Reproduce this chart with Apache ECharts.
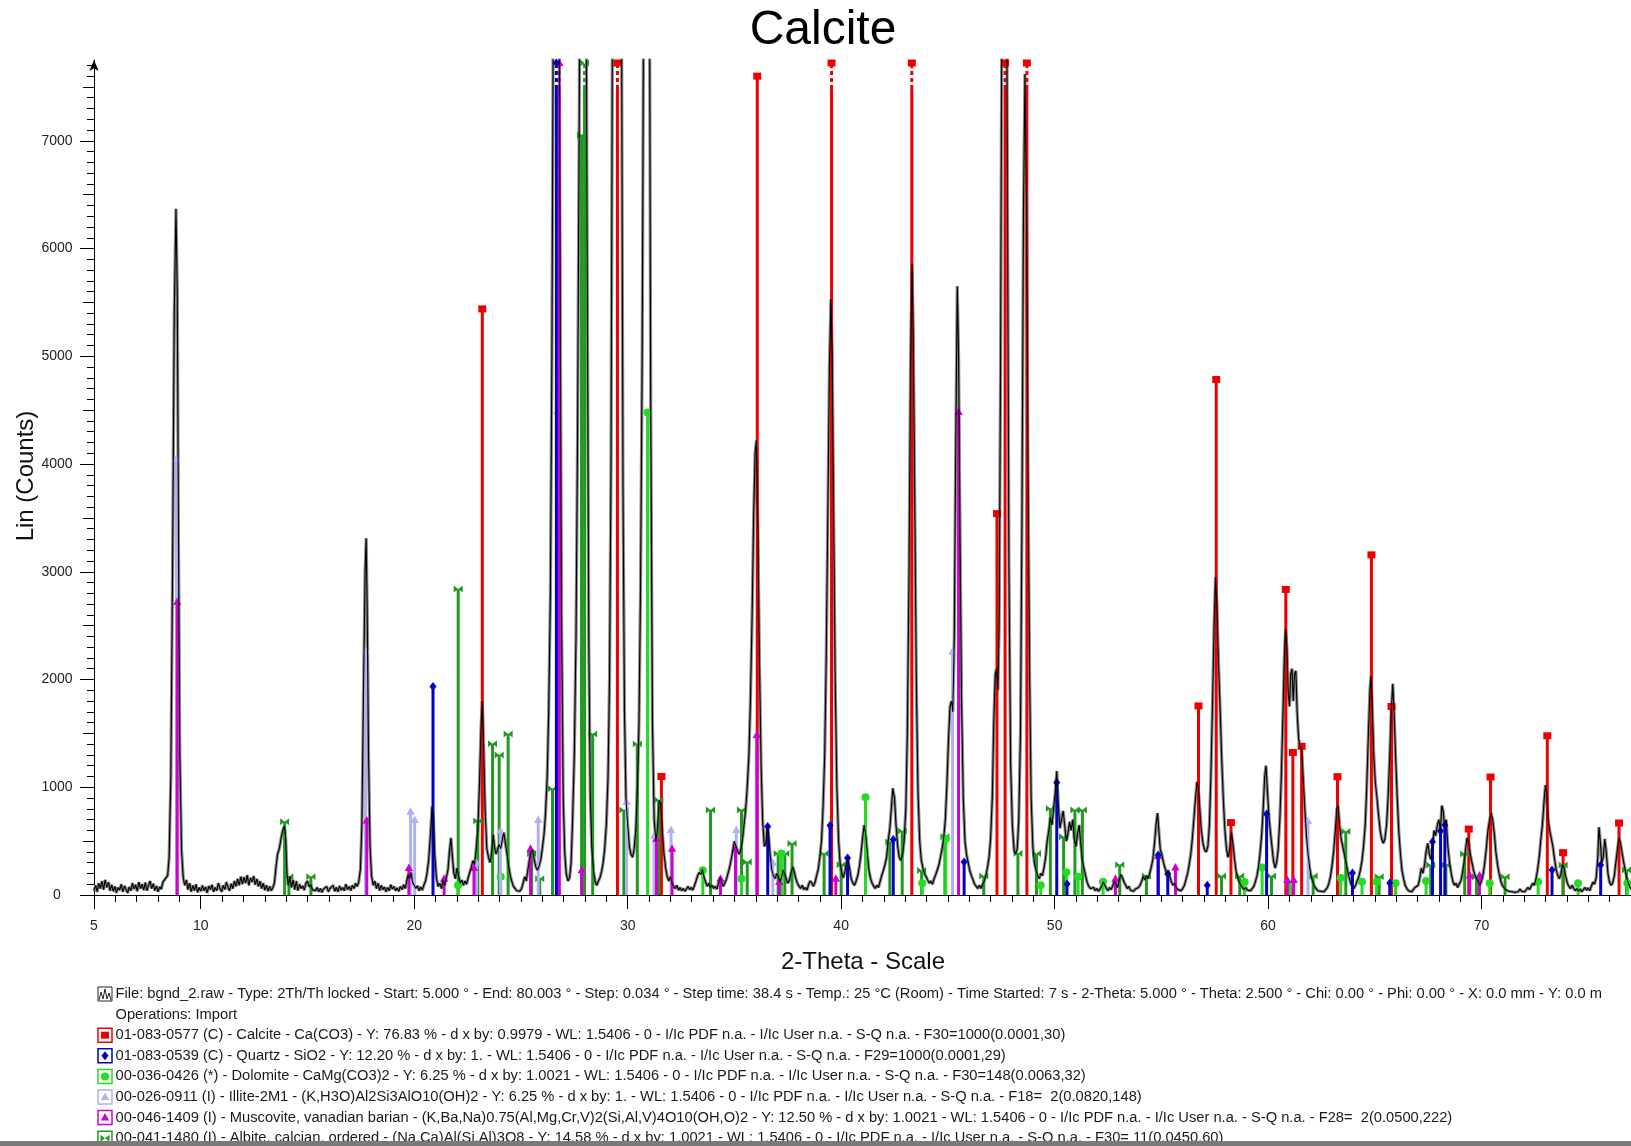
<!DOCTYPE html>
<html>
<head>
<meta charset="utf-8">
<script src="https://cdn.jsdelivr.net/npm/echarts@6/dist/echarts.min.js"></script>
<style>
  html, body { margin: 0; padding: 0; background: #fff; }
  #chart { width: 1631px; height: 1146px; }
</style>
</head>
<body>
<div id="chart"></div>
<script>
// ---- Measured diffraction pattern: [2-theta (deg), counts] ----
const pattern = [
[5.00,40],[5.08,90],[5.15,30],[5.22,110],[5.30,60],[5.37,130],[5.45,50],[5.52,140],[5.60,70],[5.68,120],[5.75,40],[5.83,95],[5.90,35],[5.98,80],[6.05,20],[6.13,70],[6.20,45],[6.28,100],[6.35,30],[6.43,85],[6.50,50],[6.58,20],[6.65,75],[6.73,40],[6.80,110],[6.88,55],[6.95,95],[7.03,35],[7.10,120],[7.18,60],[7.25,100],[7.33,45],[7.40,115],[7.48,40],[7.55,90],[7.63,130],[7.70,60],[7.78,105],[7.85,40],[7.93,85],[8.00,30],[8.08,75],[8.15,55],[8.23,120],[8.30,140],[8.38,130],[8.45,180],[8.52,350],[8.60,1100],[8.68,3000],[8.76,5400],[8.84,6370],[8.90,5600],[8.96,3200],[9.02,1300],[9.10,420],[9.18,160],[9.25,90],[9.33,140],[9.40,50],[9.48,110],[9.55,30],[9.63,90],[9.70,40],[9.78,100],[9.85,25],[9.93,70],
[10.00,35],[10.08,90],[10.15,40],[10.23,75],[10.30,20],[10.38,85],[10.45,50],[10.53,95],[10.60,30],[10.68,70],[10.75,40],[10.83,110],[10.90,60],[10.98,30],[11.05,90],[11.13,50],[11.20,120],[11.28,70],[11.35,40],[11.43,105],[11.50,60],[11.58,130],[11.65,80],[11.73,150],[11.80,90],[11.88,170],[11.95,100],[12.03,165],[12.10,110],[12.18,185],[12.25,90],[12.33,160],[12.40,120],[12.48,175],[12.55,95],[12.63,150],[12.70,80],[12.78,130],[12.85,60],[12.93,110],[13.00,45],[13.08,90],[13.15,35],[13.23,80],[13.30,40],[13.38,70],[13.45,110],[13.52,250],[13.60,380],[13.68,430],[13.76,520],[13.84,600],[13.92,640],[13.98,520],[14.04,200],[14.10,90],[14.18,170],[14.25,70],[14.33,140],[14.40,50],[14.48,130],[14.55,40],[14.63,100],[14.70,60],[14.78,85],[14.85,45],[14.93,110],[15.00,130],[15.08,75],[15.15,95],[15.23,50],[15.30,65],[15.38,40],[15.45,70],[15.53,30],[15.60,60],[15.68,25],[15.75,55],[15.83,40],[15.90,80],[15.98,30],
[16.05,60],[16.13,45],[16.20,90],[16.28,35],[16.35,70],[16.43,30],[16.50,85],[16.58,45],[16.65,70],[16.73,40],[16.80,100],[16.88,50],[16.95,80],[17.03,40],[17.10,90],[17.18,60],[17.25,110],[17.33,80],[17.40,120],[17.48,240],[17.55,650],[17.62,1800],[17.70,3000],[17.75,3310],[17.80,2600],[17.86,1300],[17.93,450],[18.00,180],[18.08,90],[18.15,130],[18.23,60],[18.30,110],[18.38,40],[18.45,90],[18.53,50],[18.60,75],[18.68,30],[18.75,70],[18.83,40],[18.90,95],[18.98,55],[19.05,80],[19.13,40],[19.20,65],[19.28,35],[19.35,80],[19.43,50],[19.50,95],[19.58,60],[19.65,130],[19.72,190],[19.78,150],[19.85,210],[19.92,120],[20.00,90],[20.08,60],[20.15,85],[20.23,40],[20.30,75],[20.38,45],[20.45,90],[20.53,130],[20.60,200],[20.68,330],[20.76,560],[20.84,820],[20.90,700],[20.96,380],
[21.04,160],[21.12,80],[21.20,110],[21.28,60],[21.35,140],[21.43,90],[21.50,160],[21.58,230],[21.65,400],[21.72,530],[21.78,380],[21.85,210],[21.93,150],[22.00,250],[22.08,180],[22.15,110],[22.23,140],[22.30,90],[22.38,130],[22.45,100],[22.53,160],[22.60,210],[22.68,260],[22.75,320],[22.83,280],[22.90,420],[22.98,600],[23.06,1050],[23.13,1550],[23.19,1800],[23.25,1400],[23.32,800],[23.40,430],[23.48,350],[23.55,300],[23.62,380],[23.70,560],[23.76,450],[23.83,380],[23.90,420],[23.98,470],[24.05,430],[24.13,520],[24.20,580],[24.28,470],[24.35,380],[24.43,260],[24.50,180],[24.58,120],[24.65,80],[24.73,60],[24.80,40],[24.88,55],[24.95,35],
[25.03,60],[25.10,110],[25.18,170],[25.25,130],[25.33,240],[25.40,330],[25.48,400],[25.55,420],[25.62,330],[25.70,260],[25.78,230],[25.85,270],[25.93,330],[26.00,430],[26.08,560],[26.15,750],[26.23,1100],[26.30,1700],[26.38,2800],[26.45,5000],[26.52,8500],[26.60,12000],[26.68,13500],[26.75,11000],[26.82,6500],[26.90,2600],[26.98,900],[27.05,400],[27.12,200],[27.20,130],[27.28,160],[27.35,300],[27.42,700],[27.50,1300],[27.58,2400],[27.65,4200],[27.72,6800],[27.80,10000],[27.88,12500],[27.95,13000],[28.02,10500],[28.10,6000],[28.18,2300],[28.25,900],[28.32,450],[28.40,220],[28.48,120],[28.55,90],[28.63,130],[28.70,160],[28.78,220],[28.85,300],[28.92,420],
[29.00,650],[29.08,1100],[29.15,2000],[29.22,4000],[29.30,9000],[29.38,20000],[29.46,40000],[29.54,42000],[29.62,22000],[29.70,9000],[29.78,3800],[29.85,1700],[29.92,900],[30.00,650],[30.08,450],[30.15,380],[30.23,350],[30.30,420],[30.38,600],[30.45,950],[30.53,1600],[30.60,2800],[30.68,5000],[30.76,9000],[30.84,13000],[30.92,14500],[31.00,10000],[31.08,4500],[31.16,1600],[31.24,700],[31.32,500],[31.40,620],[31.48,880],[31.55,850],[31.62,600],[31.70,380],[31.78,250],[31.85,170],[31.93,130],[32.00,170],[32.08,110],[32.15,80],[32.23,60],[32.30,90],[32.38,45],[32.45,70],[32.53,40],[32.60,60],[32.68,35],[32.75,55],[32.83,80],[32.90,50],[32.98,70],
[33.05,45],[33.13,90],[33.20,130],[33.28,180],[33.35,210],[33.43,190],[33.50,240],[33.58,160],[33.65,120],[33.73,80],[33.80,110],[33.88,70],[33.95,90],[34.03,60],[34.10,80],[34.18,55],[34.25,110],[34.33,160],[34.40,120],[34.48,80],[34.55,110],[34.63,150],[34.70,200],[34.78,260],[34.85,330],[34.93,420],[35.00,500],[35.08,450],[35.15,400],[35.23,380],[35.30,420],[35.38,520],[35.45,650],[35.53,800],[35.60,1000],[35.68,1300],[35.75,1800],[35.83,2600],[35.90,3500],[35.97,4100],[36.03,4220],[36.10,3400],[36.17,2200],[36.25,1200],[36.32,700],[36.40,450],[36.47,480],[36.54,620],[36.60,560],[36.67,380],[36.75,240],[36.82,180],[36.90,150],[36.98,200],
[37.05,170],[37.13,120],[37.20,160],[37.28,230],[37.35,200],[37.43,150],[37.50,110],[37.58,140],[37.65,200],[37.73,260],[37.80,220],[37.88,150],[37.95,110],[38.03,80],[38.10,60],[38.18,90],[38.25,50],[38.33,70],[38.40,45],[38.48,100],[38.55,130],[38.63,110],[38.70,80],[38.78,120],[38.85,180],[38.93,240],[39.00,350],[39.08,500],[39.15,800],[39.23,1300],[39.30,2200],[39.38,3600],[39.45,4900],[39.52,5530],[39.58,5000],[39.65,3500],[39.72,2000],[39.80,1000],[39.88,500],[39.95,300],
[40.03,200],[40.10,160],[40.18,220],[40.25,300],[40.32,330],[40.40,240],[40.47,150],[40.55,110],[40.63,90],[40.70,130],[40.78,180],[40.85,260],[40.93,380],[41.00,520],[41.08,650],[41.15,560],[41.23,380],[41.30,230],[41.38,150],[41.45,110],[41.53,80],[41.60,60],[41.68,90],[41.75,70],[41.83,130],[41.90,180],[41.98,230],[42.05,280],[42.13,350],[42.20,500],[42.28,620],[42.35,800],[42.42,990],[42.50,900],[42.57,650],[42.65,450],[42.72,350],[42.80,320],[42.88,380],[42.95,500],
[43.03,800],[43.10,1500],[43.18,3000],[43.25,4900],[43.32,5860],[43.38,5200],[43.45,3600],[43.52,2000],[43.60,950],[43.68,500],[43.75,330],[43.83,250],[43.90,200],[43.98,170],[44.05,140],[44.13,110],[44.20,130],[44.28,100],[44.35,150],[44.43,190],[44.50,230],[44.58,280],[44.65,350],[44.73,430],[44.80,520],[44.88,700],[44.95,1000],[45.03,1450],[45.10,1750],[45.17,1800],[45.23,1700],[45.30,2400],[45.37,4200],[45.44,5650],[45.50,5000],[45.57,3300],[45.64,1800],[45.72,900],[45.80,500],[45.87,380],[45.95,300],
[46.02,230],[46.10,180],[46.18,140],[46.25,100],[46.33,80],[46.40,60],[46.48,90],[46.55,60],[46.63,100],[46.70,130],[46.78,180],[46.85,250],[46.93,350],[47.00,520],[47.08,900],[47.15,1600],[47.22,2050],[47.28,2100],[47.34,1900],[47.40,2500],[47.47,5000],[47.54,9000],[47.62,13000],[47.70,12000],[47.78,7000],[47.86,3000],[47.94,1200],[48.02,650],[48.10,420],[48.17,380],[48.25,430],[48.32,700],[48.40,1500],[48.47,3500],[48.54,6300],[48.61,7620],[48.68,6500],[48.75,4000],[48.83,2000],[48.90,900],[48.98,450],
[49.05,300],[49.13,230],[49.20,180],[49.28,150],[49.35,200],[49.43,180],[49.50,250],[49.58,350],[49.65,500],[49.73,600],[49.80,720],[49.88,650],[49.95,800],[50.03,950],[50.10,1150],[50.17,850],[50.25,620],[50.32,700],[50.40,780],[50.47,650],[50.55,500],[50.62,560],[50.70,680],[50.77,600],[50.85,700],[50.92,520],[51.00,450],[51.07,560],[51.15,650],[51.22,480],[51.30,320],[51.37,250],[51.45,180],[51.52,120],[51.60,80],[51.68,60],[51.75,45],[51.83,70],[51.90,40],[51.98,60],
[52.05,35],[52.13,55],[52.20,80],[52.28,120],[52.35,90],[52.43,60],[52.50,40],[52.58,70],[52.65,50],[52.73,90],[52.80,130],[52.88,100],[52.95,70],[53.03,140],[53.10,190],[53.18,160],[53.25,120],[53.33,90],[53.40,60],[53.48,80],[53.55,45],[53.63,60],[53.70,35],[53.78,55],[53.85,40],[53.93,70],[54.00,90],[54.08,130],[54.15,170],[54.23,140],[54.30,180],[54.38,150],[54.45,200],[54.53,260],[54.60,330],[54.68,480],[54.75,650],[54.82,760],[54.88,600],[54.95,420],
[55.02,380],[55.10,300],[55.17,250],[55.25,200],[55.32,230],[55.40,170],[55.47,120],[55.55,90],[55.62,110],[55.70,70],[55.77,50],[55.85,65],[55.92,40],[56.00,60],[56.08,90],[56.15,140],[56.23,200],[56.30,280],[56.38,380],[56.45,520],[56.53,720],[56.60,900],[56.67,1050],[56.73,1000],[56.80,800],[56.87,600],[56.95,480],[57.02,420],[57.10,400],[57.18,450],[57.25,650],[57.32,1100],[57.40,1800],[57.47,2500],[57.54,2950],[57.60,2700],[57.67,2200],[57.74,1800],[57.82,1300],[57.90,900],[57.97,620],
[58.05,430],[58.12,350],[58.20,420],[58.28,580],[58.35,480],[58.43,330],[58.50,220],[58.58,160],[58.65,120],[58.73,90],[58.80,70],[58.88,50],[58.95,70],[59.03,45],[59.10,60],[59.18,40],[59.25,55],[59.33,80],[59.40,120],[59.48,180],[59.55,260],[59.62,380],[59.70,560],[59.77,800],[59.84,1100],[59.90,1200],[59.96,1000],
[60.03,750],[60.10,600],[60.18,450],[60.25,320],[60.33,250],[60.40,300],[60.47,420],[60.55,700],[60.62,1100],[60.70,1700],[60.76,2200],[60.82,2470],[60.88,2300],[60.94,1900],[61.00,1750],[61.06,2050],[61.12,2100],[61.18,1800],[61.24,2050],[61.30,2080],[61.36,1700],[61.43,1450],[61.50,1380],[61.57,1350],[61.64,1100],[61.72,800],[61.80,550],[61.87,380],[61.95,250],
[62.02,170],[62.10,120],[62.17,80],[62.25,60],[62.32,40],[62.40,55],[62.47,35],[62.55,50],[62.62,30],[62.70,45],[62.78,70],[62.85,110],[62.93,180],[63.00,280],[63.08,420],[63.15,600],[63.22,800],[63.28,830],[63.35,650],[63.42,520],[63.50,450],[63.57,380],[63.65,300],[63.72,230],[63.80,160],[63.87,110],[63.95,80],
[64.02,60],[64.10,90],[64.17,130],[64.25,170],[64.32,230],[64.40,320],[64.47,450],[64.55,650],[64.62,1000],[64.70,1500],[64.77,1900],[64.82,2030],[64.88,1750],[64.95,1300],[65.02,1050],[65.10,900],[65.17,750],[65.25,600],[65.32,520],[65.40,480],[65.47,520],[65.55,650],[65.62,900],[65.70,1300],[65.77,1700],[65.84,1960],[65.90,1700],[65.97,1300],
[66.05,900],[66.12,600],[66.20,380],[66.27,230],[66.35,150],[66.42,90],[66.50,60],[66.58,40],[66.65,55],[66.73,30],[66.80,50],[66.88,70],[66.95,60],[67.03,90],[67.10,150],[67.18,250],[67.25,200],[67.33,280],[67.40,400],[67.48,480],[67.55,380],[67.63,330],[67.70,450],[67.78,600],[67.85,550],[67.93,650],
[68.00,700],[68.07,600],[68.14,830],[68.20,780],[68.27,650],[68.34,700],[68.42,450],[68.50,300],[68.58,200],[68.65,130],[68.73,90],[68.80,110],[68.88,70],[68.95,100],[69.03,130],[69.10,200],[69.18,300],[69.25,420],[69.32,530],[69.40,480],[69.47,380],[69.55,300],[69.62,230],[69.70,180],[69.77,150],[69.85,120],[69.92,90],
[70.00,130],[70.08,200],[70.15,300],[70.23,450],[70.30,600],[70.38,700],[70.45,760],[70.52,700],[70.60,560],[70.67,400],[70.75,280],[70.82,200],[70.90,130],[70.97,90],[71.05,70],[71.12,50],[71.20,60],[71.27,35],[71.35,50],[71.42,30],[71.50,45],[71.57,25],[71.65,40],[71.72,30],[71.80,55],[71.87,35],[71.95,50],
[72.02,30],[72.10,45],[72.17,70],[72.25,50],[72.32,80],[72.40,110],[72.47,90],[72.55,150],[72.62,230],[72.70,350],[72.77,500],[72.85,650],[72.92,850],[72.99,1020],[73.05,950],[73.12,700],[73.19,600],[73.27,520],[73.34,450],[73.42,330],[73.49,240],[73.57,180],[73.64,150],[73.72,200],[73.79,280],[73.87,250],[73.94,170],
[74.02,110],[74.09,80],[74.17,60],[74.24,90],[74.32,60],[74.39,40],[74.47,60],[74.54,35],[74.62,55],[74.69,30],[74.77,50],[74.84,70],[74.92,45],[74.99,65],[75.07,40],[75.14,80],[75.22,120],[75.29,100],[75.37,160],[75.44,330],[75.50,630],[75.56,500],[75.63,300],[75.70,350],[75.77,520],[75.84,400],[75.92,200],[75.99,120],
[76.07,90],[76.14,110],[76.22,180],[76.29,300],[76.37,430],[76.44,530],[76.51,480],[76.59,380],[76.66,300],[76.74,220],[76.81,150],[76.89,100],[76.96,70],[77.04,50],[77.11,70],[77.19,40],[77.26,60],[77.34,35],[77.41,55],[77.49,30],[77.56,50]
];

// ---- Reference stick patterns: [2-theta (deg), scaled intensity] ----
const calcite = [[23.19,5440],[29.52,12000],[31.58,1100],[36.07,7600],[39.55,9500],[43.31,9500],[47.30,3540],[47.68,9500],[48.70,9500],[56.74,1755],[57.57,4785],[58.26,672],[60.83,2836],[61.16,1323],[61.57,1380],[63.25,1098],[64.84,3157],[65.78,1750],[69.40,612],[70.42,1095],[73.08,1478],[73.82,393],[76.44,668]];
const quartz = [[20.88,1935],[26.66,12000],[36.56,635],[39.48,645],[40.30,343],[42.44,514],[45.76,306],[50.10,1045],[50.58,102],[54.85,371],[55.30,195],[57.15,90],[59.93,752],[63.95,204],[65.70,111],[67.70,495],[68.08,594],[68.28,650],[73.30,232],[75.58,278]];
const dolomite = [[22.05,90],[24.05,170],[30.93,4478],[33.52,230],[35.33,150],[37.20,385],[41.14,907],[43.80,110],[44.90,520],[49.35,90],[50.55,210],[51.10,170],[52.27,124],[58.90,120],[59.72,255],[61.00,90],[63.40,158],[64.40,124],[65.08,124],[65.97,110],[67.40,130],[70.38,110],[72.65,124],[74.52,110],[76.83,110]];
const illite = [[8.86,4045],[17.72,2268],[19.83,773],[20.02,696],[22.92,300],[24.04,595],[25.81,696],[26.72,4490],[29.95,863],[31.24,550],[32.03,603],[35.09,603],[36.80,300],[45.22,2260],[61.87,687]];
const muscovite = [[8.90,2720],[17.78,692],[19.75,250],[21.40,150],[22.80,250],[25.45,430],[26.80,12000],[27.85,230],[31.35,520],[32.08,430],[34.35,150],[35.05,430],[36.05,1485],[37.10,120],[39.75,150],[45.50,4483],[52.85,150],[54.85,363],[55.66,255],[60.90,140],[61.20,140],[69.45,180],[69.90,180]];
const albite = [[13.93,680],[14.13,170],[15.16,170],[22.06,2840],[22.98,687],[23.67,1403],[23.98,1300],[24.40,1495],[25.50,385],[25.88,150],[26.48,985],[27.84,7053],[27.98,12000],[28.36,1495],[29.82,790],[30.45,1402],[31.46,882],[33.88,790],[35.33,790],[35.60,306],[37.05,385],[37.36,385],[37.70,478],[39.20,385],[40.00,280],[42.28,492],[42.86,594],[43.77,227],[44.86,541],[46.68,176],[48.28,385],[49.15,385],[49.80,802],[50.42,540],[50.95,790],[51.30,790],[53.05,281],[54.30,176],[57.82,176],[58.67,176],[60.16,176],[62.11,176],[63.64,590],[65.20,170],[67.62,278],[68.33,278],[69.21,381],[69.76,170],[71.10,170],[73.82,278],[76.79,232]];

// ---- Axis labels ----
const xLabelValues = [5, 10, 20, 30, 40, 50, 60, 70];
const yLabelValues = [0, 1000, 2000, 3000, 4000, 5000, 6000, 7000];

// ---- Legend text ----
const infoLines = [
  'File: bgnd_2.raw - Type: 2Th/Th locked - Start: 5.000 ° - End: 80.003 ° - Step: 0.034 ° - Step time: 38.4 s - Temp.: 25 °C (Room) - Time Started: 7 s - 2-Theta: 5.000 ° - Theta: 2.500 ° - Chi: 0.00 ° - Phi: 0.00 ° - X: 0.0 mm - Y: 0.0 m',
  'Operations: Import',
  '01-083-0577 (C) - Calcite - Ca(CO3) - Y: 76.83 % - d x by: 0.9979 - WL: 1.5406 - 0 - I/Ic PDF n.a. - I/Ic User n.a. - S-Q n.a. - F30=1000(0.0001,30)',
  '01-083-0539 (C) - Quartz - SiO2 - Y: 12.20 % - d x by: 1. - WL: 1.5406 - 0 - I/Ic PDF n.a. - I/Ic User n.a. - S-Q n.a. - F29=1000(0.0001,29)',
  '00-036-0426 (*) - Dolomite - CaMg(CO3)2 - Y: 6.25 % - d x by: 1.0021 - WL: 1.5406 - 0 - I/Ic PDF n.a. - I/Ic User n.a. - S-Q n.a. - F30=148(0.0063,32)',
  '00-026-0911 (I) - Illite-2M1 - (K,H3O)Al2Si3AlO10(OH)2 - Y: 6.25 % - d x by: 1. - WL: 1.5406 - 0 - I/Ic PDF n.a. - I/Ic User n.a. - S-Q n.a. - F18=  2(0.0820,148)',
  '00-046-1409 (I) - Muscovite, vanadian barian - (K,Ba,Na)0.75(Al,Mg,Cr,V)2(Si,Al,V)4O10(OH,O)2 - Y: 12.50 % - d x by: 1.0021 - WL: 1.5406 - 0 - I/Ic PDF n.a. - I/Ic User n.a. - S-Q n.a. - F28=  2(0.0500,222)',
  '00-041-1480 (I) - Albite, calcian, ordered - (Na,Ca)Al(Si,Al)3O8 - Y: 14.58 % - d x by: 1.0021 - WL: 1.5406 - 0 - I/Ic PDF n.a. - I/Ic User n.a. - S-Q n.a. - F30= 11(0.0450,60)'
];

// ---- Layout / style constants ----
const FONT = '"Liberation Sans", Arial, sans-serif';
const Y_MAX = 7750;
// the scan runs to 80 deg; the visible window ends at the right edge (~77 deg)
const X_MIN = 5, X_MAX = 77;
const GRID = { left: 94, top: 60, width: 1537, height: 835 };
const COLORS = {
  calcite: '#ee0000', quartz: '#0000cc', dolomite: '#22dd22',
  illite: '#b0b0f2', muscovite: '#d000d0', albite: '#1f9a1f'
};

// tick positions
const xMajorTicks = [5];
for (let v = 10; v <= X_MAX; v += 10) xMajorTicks.push(v);
const xMinorTicks = [];
for (let v = 6; v <= X_MAX; v++) if (v % 10 !== 0) xMinorTicks.push(v);
const yMidTicks = [];
for (let v = 500; v <= 7500; v += 1000) yMidTicks.push(v);
const yMinorTicks = [];
for (let v = 100; v <= 7700; v += 100) if (v % 500 !== 0) yMinorTicks.push(v);

// marker shapes used at stick tops and in the legend
function markerShape(kind, cx, cy, color) {
  switch (kind) {
    case 'square':
      return { type: 'rect', shape: { x: cx - 4, y: cy - 3.5, width: 8, height: 7 }, style: { fill: color } };
    case 'diamond':
      return { type: 'polygon', shape: { points: [[cx, cy - 4.5], [cx + 3.5, cy], [cx, cy + 4.5], [cx - 3.5, cy]] }, style: { fill: color } };
    case 'circle':
      return { type: 'circle', shape: { cx: cx, cy: cy, r: 4 }, style: { fill: color } };
    case 'triangle':
      return { type: 'polygon', shape: { points: [[cx, cy - 4.5], [cx + 4.2, cy + 3], [cx - 4.2, cy + 3]] }, style: { fill: color } };
    case 'bowtie':
      return { type: 'group', children: [
        { type: 'polygon', shape: { points: [[cx - 4.5, cy - 3.5], [cx, cy], [cx - 4.5, cy + 3.5]] }, style: { fill: color } },
        { type: 'polygon', shape: { points: [[cx + 4.5, cy - 3.5], [cx, cy], [cx + 4.5, cy + 3.5]] }, style: { fill: color } }
      ] };
  }
}

function stickSeries(name, peaks, color, kind) {
  return {
    type: 'custom',
    name: name,
    data: peaks,
    z: 3,
    silent: true,
    animation: false,
    renderItem: function (params, api) {
      const x = api.value(0), v = api.value(1);
      const base = api.coord([x, 0]);
      const over = v > Y_MAX;
      const top = api.coord([x, over ? Y_MAX : v]);
      const ty = over ? top[1] + 3 : top[1];
      const children = [];
      if (over) {
        const breakY = ty + 26;
        children.push({ type: 'line', shape: { x1: base[0], y1: base[1], x2: base[0], y2: breakY }, style: { stroke: color, lineWidth: 3 } });
        children.push({ type: 'line', shape: { x1: base[0], y1: breakY, x2: base[0], y2: ty }, style: { stroke: color, lineWidth: 3, lineDash: [4, 3] } });
      } else {
        children.push({ type: 'line', shape: { x1: base[0], y1: base[1], x2: base[0], y2: ty }, style: { stroke: color, lineWidth: 3 } });
      }
      children.push(markerShape(kind, base[0], ty, color));
      return { type: 'group', children: children };
    }
  };
}

// ---- Legend / info block below the plot ----
const graphics = [];
const rowY0 = 994, rowStep = 20.6;
const legendIcons = [
  { kind: 'file' }, null,
  { kind: 'square', color: COLORS.calcite },
  { kind: 'diamond', color: COLORS.quartz },
  { kind: 'circle', color: COLORS.dolomite },
  { kind: 'triangle', color: COLORS.illite },
  { kind: 'triangle', color: COLORS.muscovite },
  { kind: 'bowtie', color: COLORS.albite }
];
infoLines.forEach(function (line, i) {
  const cy = rowY0 + i * rowStep;
  graphics.push({
    type: 'text', x: 115.5, y: cy, z: 10,
    style: { text: line, fill: '#1a1a1a', font: '14.7px ' + FONT, textAlign: 'left', textVerticalAlign: 'middle' }
  });
  const ic = legendIcons[i];
  if (!ic) return;
  const bx = 98, by = cy - 7;
  if (ic.kind === 'file') {
    graphics.push({ type: 'rect', z: 10, shape: { x: bx, y: by, width: 14, height: 14 }, style: { fill: '#fff', stroke: '#222', lineWidth: 1 } });
    graphics.push({ type: 'polyline', z: 11, shape: { points: [[bx + 1, by + 13], [bx + 3, by + 5], [bx + 5, by + 12], [bx + 7, by + 2], [bx + 9, by + 12], [bx + 11, by + 6], [bx + 13, by + 13]] }, style: { stroke: '#222', lineWidth: 1, fill: null } });
  } else {
    graphics.push({ type: 'rect', z: 10, shape: { x: bx, y: by, width: 14, height: 14 }, style: { fill: '#fff', stroke: ic.color, lineWidth: 1.5 } });
    const m = markerShape(ic.kind, bx + 7, cy, ic.color);
    m.z = 11;
    if (m.children) m.children.forEach(function (c) { c.z = 11; });
    graphics.push(m);
  }
});
// window frame edge at the bottom
graphics.push({ type: 'rect', z: 20, shape: { x: 0, y: 1141, width: 1631, height: 5 }, style: { fill: '#7a7a7a' } });

// ---- Titles ----
graphics.push({ type: 'text', x: 823, y: 31, z: 10, style: { text: 'Calcite', fill: '#000', font: '48px ' + FONT, textAlign: 'center', textVerticalAlign: 'middle' } });
graphics.push({ type: 'text', x: 863, y: 962, z: 10, style: { text: '2-Theta - Scale', fill: '#111', font: '24px ' + FONT, textAlign: 'center', textVerticalAlign: 'middle' } });
graphics.push({ type: 'text', x: 26, y: 476, z: 10, rotation: Math.PI / 2, style: { text: 'Lin (Counts)', fill: '#111', font: '24px ' + FONT, textAlign: 'center', textVerticalAlign: 'middle' } });

const axisLabelStyle = { fontSize: 14, fontFamily: FONT, color: '#222' };
const plainNumber = function (v) { return String(v); };

const option = {
  backgroundColor: '#fff',
  animation: false,
  grid: GRID,
  xAxis: [
    {
      type: 'value', min: X_MIN, max: X_MAX, position: 'bottom',
      axisLine: { show: true, onZero: false, lineStyle: { color: '#000', width: 1 } },
      axisTick: { show: true, length: 14, customValues: xMajorTicks, lineStyle: { color: '#000', width: 1 } },
      axisLabel: Object.assign({ customValues: xLabelValues, margin: 24, formatter: plainNumber }, axisLabelStyle),
      splitLine: { show: false }
    },
    {
      type: 'value', min: X_MIN, max: X_MAX, position: 'bottom',
      axisLine: { show: false, onZero: false },
      axisTick: { show: true, length: 7, customValues: xMinorTicks, lineStyle: { color: '#000', width: 1 } },
      axisLabel: { show: false },
      splitLine: { show: false }
    }
  ],
  yAxis: [
    {
      type: 'value', min: 0, max: Y_MAX, position: 'left',
      axisLine: { show: true, onZero: false, symbol: ['none', 'arrow'], symbolSize: [7, 11], lineStyle: { color: '#000', width: 1 } },
      axisTick: { show: true, length: 14, customValues: yLabelValues, lineStyle: { color: '#000', width: 1 } },
      axisLabel: Object.assign({ customValues: yLabelValues, margin: 37, align: 'center', formatter: plainNumber }, axisLabelStyle),
      splitLine: { show: false }
    },
    {
      type: 'value', min: 0, max: Y_MAX, position: 'left',
      axisLine: { show: false, onZero: false },
      axisTick: { show: true, length: 11, customValues: yMidTicks, lineStyle: { color: '#000', width: 1 } },
      axisLabel: { show: false }, splitLine: { show: false }
    },
    {
      type: 'value', min: 0, max: Y_MAX, position: 'left',
      axisLine: { show: false, onZero: false },
      axisTick: { show: true, length: 7, customValues: yMinorTicks, lineStyle: { color: '#000', width: 1 } },
      axisLabel: { show: false }, splitLine: { show: false }
    }
  ],
  series: [
    { type: 'line', name: 'pattern-halo', data: pattern, showSymbol: false, silent: true, z: 1,
      lineStyle: { color: '#8c8c8c', width: 3.2 }, clip: true },
    stickSeries('Calcite', calcite, COLORS.calcite, 'square'),
    stickSeries('Albite', albite, COLORS.albite, 'bowtie'),
    stickSeries('Dolomite', dolomite, COLORS.dolomite, 'circle'),
    stickSeries('Illite-2M1', illite, COLORS.illite, 'triangle'),
    stickSeries('Muscovite', muscovite, COLORS.muscovite, 'triangle'),
    stickSeries('Quartz', quartz, COLORS.quartz, 'diamond'),
    { type: 'line', name: 'pattern', data: pattern, showSymbol: false, silent: true, z: 5,
      lineStyle: { color: '#000', width: 1.1 }, clip: true }
  ],
  graphic: { elements: graphics }
};

const chart = echarts.init(document.getElementById('chart'), null, { renderer: 'canvas' });
chart.setOption(option);
</script>
</body>
</html>
